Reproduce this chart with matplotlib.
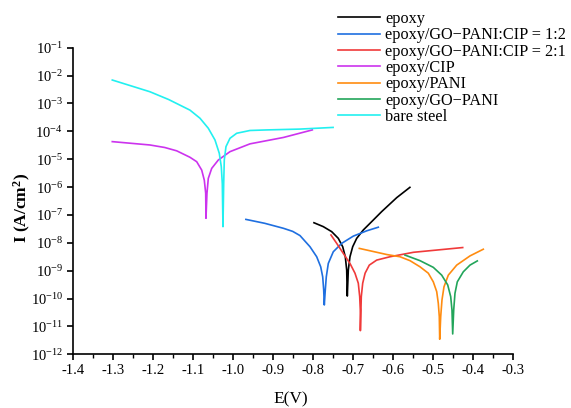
import matplotlib
matplotlib.use('Agg')
import numpy as np
from matplotlib import pyplot as plt
from matplotlib.ticker import MultipleLocator, FuncFormatter, FixedLocator

plt.rcParams['font.family'] = ['Liberation Serif', 'DejaVu Serif']
plt.rcParams['mathtext.fontset'] = 'custom'
plt.rcParams['mathtext.rm'] = 'Liberation Serif'
plt.rcParams['mathtext.bf'] = 'Liberation Serif:bold'
plt.rcParams['axes.unicode_minus'] = False

# potential (V) and log10 of current density (A/cm2)
epoxy_e = [-0.7968, -0.7735, -0.7525, -0.736, -0.725, -0.7185, -0.715, -0.7143, -0.7135,
           -0.711, -0.7068, -0.700, -0.690, -0.6735, -0.6525, -0.6275, -0.590, -0.557]
epoxy_logi = [-7.28, -7.42, -7.60, -7.84, -8.14, -8.50, -8.98, -9.45, -9.91,
              -8.98, -8.50, -8.14, -7.84, -7.54, -7.24, -6.88, -6.38, -6.01]

gpc12_e = [-0.967, -0.920, -0.873, -0.850, -0.8318, -0.8068, -0.790, -0.780, -0.775, -0.7725, -0.771,
           -0.7685, -0.766, -0.761, -0.7485, -0.7275, -0.6985, -0.665, -0.636]
gpc12_logi = [-7.16, -7.30, -7.48, -7.59, -7.74, -8.14, -8.50, -8.86, -9.22, -9.69, -10.23,
              -9.69, -9.22, -8.74, -8.32, -8.02, -7.76, -7.57, -7.44]

gpc21_e = [-0.7543, -0.740, -0.7235, -0.7068, -0.6943, -0.686, -0.6825, -0.681, -0.6808,
           -0.6785, -0.675, -0.669, -0.6585, -0.640, -0.6068, -0.548, -0.490, -0.425]
gpc21_logi = [-7.72, -8.02, -8.38, -8.74, -9.09, -9.45, -9.93, -10.41, -11.15,
              -9.93, -9.45, -9.09, -8.80, -8.62, -8.50, -8.34, -8.26, -8.17]

cip_e = [-1.301, -1.207, -1.170, -1.140, -1.107, -1.090, -1.0775, -1.071, -1.0675, -1.0668,
         -1.0643, -1.061, -1.0525, -1.036, -1.0068, -0.9568, -0.873, -0.801]
cip_logi = [-4.37, -4.49, -4.58, -4.70, -4.93, -5.09, -5.39, -5.75, -6.22, -7.12,
            -6.22, -5.69, -5.33, -5.03, -4.73, -4.45, -4.22, -3.95]

pani_e = [-0.6835, -0.615, -0.5818, -0.5568, -0.5318, -0.511, -0.4985, -0.490, -0.486, -0.4835, -0.4825,
          -0.480, -0.4768, -0.4718, -0.461, -0.440, -0.4068, -0.3735]
pani_logi = [-8.20, -8.42, -8.50, -8.64, -8.86, -9.09, -9.40, -9.75, -10.17, -10.65, -11.46,
             -10.65, -10.05, -9.58, -9.16, -8.80, -8.47, -8.23]

gopani_e = [-0.5693, -0.5318, -0.4985, -0.4775, -0.4625, -0.455, -0.4518, -0.450,
            -0.4475, -0.4443, -0.4385, -0.4235, -0.4068, -0.3885]
gopani_logi = [-8.44, -8.64, -8.88, -9.16, -9.51, -9.93, -10.41, -11.27,
               -10.41, -9.81, -9.40, -9.04, -8.80, -8.65]

steel_e = [-1.301, -1.207, -1.160, -1.1068, -1.0818, -1.061, -1.0443, -1.0335, -1.0285, -1.026, -1.0243,
           -1.0225, -1.021, -1.0168, -1.0068, -0.990, -0.9568, -0.915, -0.832, -0.749]
steel_logi = [-2.16, -2.58, -2.86, -3.24, -3.53, -3.89, -4.31, -4.79, -5.27, -5.87, -7.42,
              -5.87, -5.03, -4.55, -4.25, -4.07, -3.97, -3.95, -3.92, -3.86]

series = [
    ('epoxy', epoxy_e, epoxy_logi, 'black'),
    ('epoxy/GO\u2212PANI:CIP = 1:2', gpc12_e, gpc12_logi, '#1f6fe0'),
    ('epoxy/GO\u2212PANI:CIP = 2:1', gpc21_e, gpc21_logi, '#f03a3a'),
    ('epoxy/CIP', cip_e, cip_logi, '#cc33ee'),
    ('epoxy/PANI', pani_e, pani_logi, '#ff8c10'),
    ('epoxy/GO\u2212PANI', gopani_e, gopani_logi, '#22a55a'),
    ('bare steel', steel_e, steel_logi, '#22f0f0'),
]

fig = plt.figure(figsize=(5.71, 4.08), dpi=100)
ax = fig.add_axes([0.1273, 0.1316, 0.7706, 0.7515])

for lbl, e, li, c in series:
    ax.plot(e, 10 ** np.array(li), color=c, lw=1.2, label=lbl)

ax.set_yscale('log')
ax.set_xlim(-1.4, -0.3)
ax.set_ylim(1e-12, 1e-1)
ax.xaxis.set_major_locator(MultipleLocator(0.1))
ax.xaxis.set_minor_locator(MultipleLocator(0.05))
ax.xaxis.set_major_formatter(FuncFormatter(lambda v, p: f'{v:.1f}'))
ax.yaxis.set_major_locator(FixedLocator([10.0 ** k for k in range(-12, 0)]))
ax.yaxis.set_minor_locator(FixedLocator([]))
ax.yaxis.set_major_formatter(FuncFormatter(lambda v, p: r'$\mathregular{10^{%d}}$' % round(np.log10(v))))

for s in ('top', 'right'):
    ax.spines[s].set_visible(False)
for s in ('left', 'bottom'):
    ax.spines[s].set_linewidth(1.2)
ax.tick_params(which='major', direction='out', length=4, width=1.2, labelsize=10.5, pad=3)
ax.tick_params(which='minor', direction='out', length=3, width=1.0)

ax.set_xlabel('E(V)', fontsize=12.5)
ax.xaxis.set_label_coords(0.496, -0.12)
ax.set_ylabel('I (A/cm$\\mathregular{^2}$)', fontsize=12.5, fontweight='bold')
ax.yaxis.set_label_coords(-0.09, 0.477)

fig.legend(loc='upper left', bbox_to_anchor=(338 / 571, 1 - 11 / 408), frameon=False,
           fontsize=11.7, handlelength=2.6, handletextpad=0.3, labelspacing=0.02,
           borderpad=0, borderaxespad=0)

fig.savefig('out.png', dpi=100)
